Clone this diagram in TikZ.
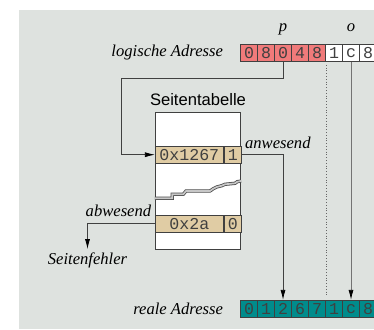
\documentclass[tikz,border=0pt]{standalone}
\usepackage{fontspec}
\setmainfont{Liberation Serif}
\setsansfont{Liberation Sans}
\setmonofont{Liberation Mono}
\usetikzlibrary{positioning,arrows.meta}

\definecolor{bggrey}{RGB}{222,226,223}
\definecolor{logred}{RGB}{240,122,122}
\definecolor{entrytan}{RGB}{224,204,164}
\definecolor{realteal}{RGB}{0,140,140}

\tikzset{
  cell/.style={draw=black!75, line width=0.8pt, minimum width=17pt, minimum height=17pt, inner sep=0pt,
    font=\fontsize{16.6}{18}\selectfont\ttfamily, text=black!75},
  lbl/.style={font=\fontsize{16.6}{18}\selectfont\itshape, inner sep=0pt},
  arr/.style={draw=black!75, line width=0.8pt, -{Latex[length=10pt,width=5pt,color=black]}},
}

\begin{document}
\begin{tikzpicture}[x=1pt, y=1pt]
    \useasboundingbox (0,0) rectangle (374,329);
    \clip (0,0) rectangle (374,329);
    \fill[bggrey] (19,0) rectangle (380,319);

    % logische und reale Adresse
    \foreach \d [count=\i] in {0,8,0,4,8,1,c,8} {
        \ifnum\i<6 \def\col{logred}\else\def\col{white}\fi
        \node(l\i) [cell, fill=\col] at (232+17*\i, 276) {\d};
    }
    \foreach \d [count=\i] in {0,1,2,6,7,1,c,8}
        \node(r\i) [cell, fill=realteal] at (232+17*\i, 20.2) {\d};

    \node(logadr) [lbl, left=17pt of l1] {logische Adresse};
    \node(realadr) [lbl, left=17pt of r1] {reale Adresse};
    \node(p) [lbl, above=12.5pt of l3, anchor=base] {p};
    \node(o) [lbl, above=12.5pt of l7, anchor=base] {o};

    % Seitentabelle
    \node(tab) [draw=black!75, line width=0.8pt, fill=white, minimum width=85.4pt, minimum height=136.3pt, inner sep=0pt] at (198,148.2) {};
    \node(title) [font=\fontsize{16.6}{18}\selectfont\sffamily, inner sep=0pt, above=6pt of tab] {Seitentabelle};
    \node(e1a) [cell, fill=entrytan, minimum width=68pt, minimum height=17.3pt, anchor=west] at (tab.west |- 0,174.3) {0x1267};
    \node(e1b) [cell, fill=entrytan, minimum width=17.4pt, minimum height=17.3pt, right=0pt of e1a] {1};
    \node(e2a) [cell, fill=entrytan, minimum width=68pt, minimum height=17.3pt, anchor=west] at (tab.west |- 0,105.3) {0x2a};
    \node(e2b) [cell, fill=entrytan, minimum width=17.4pt, minimum height=17.3pt, right=0pt of e2a] {0};

    % Bruchkante
    \draw[black!70, line width=0.8pt, double=black!22, double distance=1.7pt]
        (tab.west |- 0,130.7) -- (172.3,130.7) -- (172.3,134.7) -- (183.3,134.7) -- (186,138)
        -- (210,138) -- (213.3,140.3) -- (216.7,142) -- (221.7,143.3) -- (225,144.7)
        -- (235,145.7) -- (237.3,147.3) -- (tab.east |- 0,148);

    \node(anw) [lbl, anchor=base west] at ([shift={(3pt,-3.3pt)}]e1b.north east) {anwesend};
    \node(abw) [lbl, anchor=base east] at ([shift={(-3.5pt,-2.3pt)}]e2a.north west) {abwesend};
    \node(fault) [lbl, anchor=base] at (87.5,64) {Seitenfehler};
    \coordinate(pbend) at (121,251);

    \draw[arr] (l3.south) |- (pbend) |- (e1a.west);
    \draw[arr] (e1b.east) -| (r3.north);
    \draw[arr] (e2a.west) -| ([yshift=4pt]fault.north);
    \draw[arr, draw=black!55] (l7.south) -- (r7.north);
    \draw[dotted, black!60, line width=0.8pt] ([yshift=-3pt]l5.south east) -- ([yshift=5pt]r5.north east);
\end{tikzpicture}
\end{document}
